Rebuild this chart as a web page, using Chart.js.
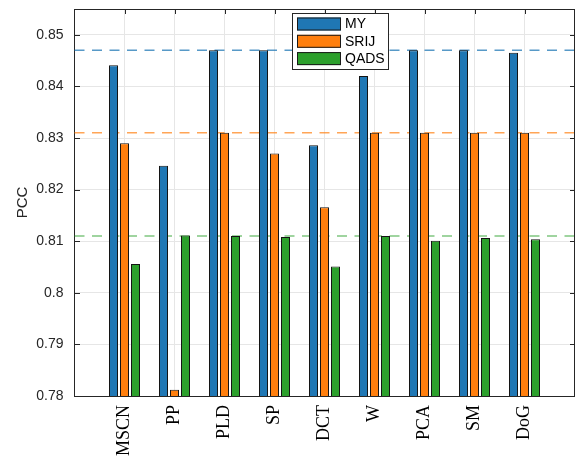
<!DOCTYPE html>
<html>
<head>
<meta charset="utf-8">
<script src="https://cdn.jsdelivr.net/npm/chart.js@4.4.1/dist/chart.umd.min.js"></script>
<style>
  html, body { margin: 0; padding: 0; background: #fff; }
  #wrap { width: 575px; height: 459px; }
</style>
</head>
<body>
<div id="wrap"><canvas id="c" width="575" height="459"></canvas></div>
<script>
const methods = ["MSCN", "PP", "PLD", "SP", "DCT", "W", "PCA", "SM", "DoG"];
const seriesNames = ["MY", "SRIJ", "QADS"];
const myValues   = [0.8441, 0.8246, 0.847, 0.847, 0.8286, 0.842, 0.847, 0.847, 0.8465];
const srijValues = [0.829, 0.7812, 0.831, 0.827, 0.8166, 0.831, 0.831, 0.831, 0.831];
const qadsValues = [0.8056, 0.8111, 0.811, 0.8108, 0.8051, 0.811, 0.8101, 0.8106, 0.8104];
// best value of each series, drawn as dashed reference lines
const bestLines  = [0.847, 0.831, 0.811];

const colors = ["#1f77b4", "#ff7f0e", "#2ca02c"];
const dashColors = ["rgba(31,119,180,0.75)", "rgba(255,127,14,0.7)", "rgba(44,160,44,0.6)"];
const axisColor = "#262626";
const SANS = "'Liberation Sans', Arial, Helvetica, sans-serif";
const SERIF = "'Liberation Serif', 'Times New Roman', serif";

const toPoints = arr => arr.map((v, i) => ({ x: i + 1, y: v }));

const refLines = {
    id: "refLines",
    beforeDatasetsDraw(chart) {
        const { ctx, chartArea, scales } = chart;
        ctx.save();
        ctx.lineWidth = 1.5;
        ctx.setLineDash([10, 7.5]);
        bestLines.forEach((v, i) => {
            const py = scales.y.getPixelForValue(v);
            ctx.strokeStyle = dashColors[i];
            ctx.beginPath();
            ctx.moveTo(chartArea.left, py);
            ctx.lineTo(chartArea.right, py);
            ctx.stroke();
        });
        ctx.restore();
    }
};

// box round the plot, with inward tick marks like MATLAB
const axesBox = {
    id: "axesBox",
    afterDraw(chart) {
        const { ctx, chartArea, scales } = chart;
        const left = Math.round(chartArea.left), right = Math.round(chartArea.right);
        const { top, bottom } = chartArea;
        ctx.save();
        ctx.strokeStyle = axisColor;
        ctx.lineWidth = 1;
        ctx.beginPath();
        ctx.moveTo(left, top + 0.5);
        ctx.lineTo(right, top + 0.5);
        ctx.moveTo(right - 0.5, top);
        ctx.lineTo(right - 0.5, bottom);
        ctx.stroke();
        ctx.beginPath();
        scales.y.ticks.forEach(t => {
            const py = Math.round(scales.y.getPixelForValue(t.value)) + 0.5;
            ctx.moveTo(left, py); ctx.lineTo(left + 5, py);
            ctx.moveTo(right, py); ctx.lineTo(right - 5, py);
        });
        methods.forEach((m, i) => {
            const px = Math.round(scales.x.getPixelForValue(i + 1)) + 0.5;
            ctx.moveTo(px, top); ctx.lineTo(px, top + 5);
        });
        ctx.stroke();
        ctx.restore();
    }
};

const boxLegend = {
    id: "boxLegend",
    afterDraw(chart) {
        const { ctx } = chart;
        const bx = 292, by = 13, bw = 96, bh = 56;
        ctx.save();
        ctx.fillStyle = "#fff";
        ctx.fillRect(bx, by, bw, bh);
        ctx.strokeStyle = axisColor;
        ctx.lineWidth = 1;
        ctx.strokeRect(bx + 0.5, by + 0.5, bw, bh);
        ctx.font = "14px " + SANS;
        ctx.textBaseline = "middle";
        seriesNames.forEach((name, i) => {
            const sy = by + 4.5 + i * 17.3;
            ctx.fillStyle = colors[i];
            ctx.fillRect(bx + 5, sy, 44, 13);
            ctx.strokeStyle = "#1a1a1a";
            ctx.strokeRect(bx + 5.5, sy + 0.5, 43, 12);
            ctx.fillStyle = "#000";
            ctx.fillText(name, bx + 53, sy + 7);
        });
        ctx.restore();
    }
};

const datasets = [myValues, srijValues, qadsValues].map((vals, i) => ({
    label: seriesNames[i],
    data: toPoints(vals),
    backgroundColor: colors[i],
    borderColor: "#141414",
    borderWidth: 1,
    borderSkipped: false,
    categoryPercentage: 0.66,
    barPercentage: 9 / 11
}));

new Chart(document.getElementById("c"), {
    type: "bar",
    data: { datasets },
    plugins: [refLines, axesBox, boxLegend],
    options: {
        responsive: false,
        animation: false,
        layout: { padding: { top: 9, right: 0.5, left: 0, bottom: 0 } },
        plugins: {
            legend: { display: false },
            tooltip: { enabled: false }
        },
        scales: {
            x: {
                type: "linear",
                min: 0,
                max: 10,
                offset: false,
                afterFit(scale) {
                    scale.height = 63;
                    scale.paddingLeft = 0;
                    scale.paddingRight = 0;
                },
                grid: { color: "#e6e6e6", drawTicks: false, offset: false },
                border: { display: true, color: axisColor },
                ticks: {
                    stepSize: 1,
                    autoSkip: false,
                    maxRotation: 90,
                    minRotation: 90,
                    padding: 9,
                    color: "#000",
                    font: { family: SERIF, size: 18 },
                    callback: v => methods[v - 1] ?? ""
                }
            },
            y: {
                min: 0.78,
                max: 0.855,
                afterFit(scale) {
                    scale.width = 74.5;
                    scale.paddingTop = 0;
                    scale.paddingBottom = 0;
                },
                grid: { color: "#e6e6e6", drawTicks: false },
                border: { display: true, color: axisColor },
                title: {
                    display: true,
                    text: "PCC",
                    color: axisColor,
                    font: { family: SANS, size: 15 },
                    padding: { top: 14, bottom: 0 }
                },
                ticks: {
                    stepSize: 0.01,
                    includeBounds: false,
                    padding: 11,
                    color: axisColor,
                    font: { family: SANS, size: 14 },
                    callback: v => String(+v.toFixed(3))
                }
            }
        }
    }
});
</script>
</body>
</html>
